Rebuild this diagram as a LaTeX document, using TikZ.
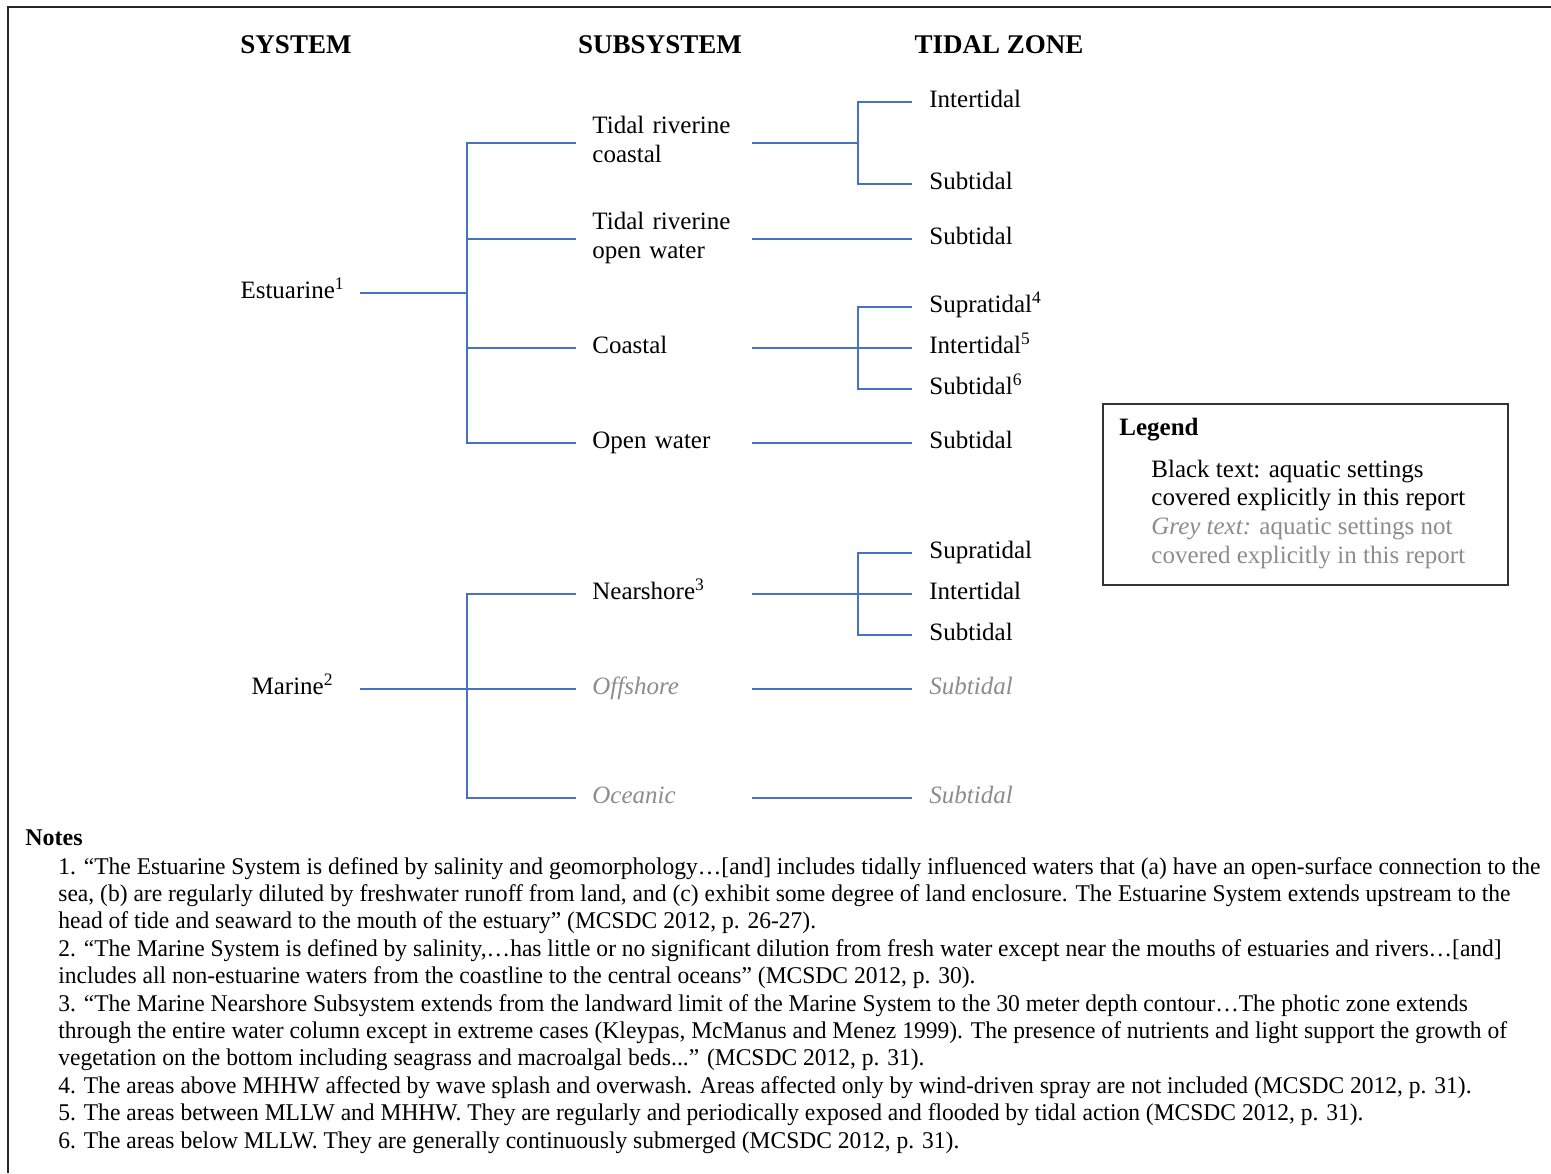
\documentclass[tikz,border=0pt]{standalone}
\usepackage{fontspec}
\setmainfont{Liberation Serif}
\newfontfamily\notefont[FakeStretch=0.98]{Liberation Serif}
\usetikzlibrary{positioning, calc}
\definecolor{linkblue}{RGB}{68, 114, 196}
\definecolor{notgray}{RGB}{140, 140, 140}
\tikzset{
  colhead/.style={font=\fontsize{13.5}{16}\selectfont\bfseries, inner sep=0pt},
  label/.style={font=\fontsize{12.5}{14.5}\selectfont,
                text height=10pt, text depth=5pt},
  sysname/.style={label, align=center, text width=58pt, inner xsep=4.5pt,
                  anchor=east},
  subname/.style={label, align=left, text width=71.5pt, inner xsep=8pt,
                  anchor=west},
  zone/.style={label, inner xsep=8.5pt, anchor=west},
  uncovered/.style={text=notgray, font=\fontsize{12.5}{14.5}\selectfont\itshape},
  tie/.style={draw=linkblue, line width=0.6pt},
  frame/.style={draw=black!85, line width=1.2pt},
}

\begin{document}
\begin{tikzpicture}[x=0.5pt, y=-0.5pt]
  \useasboundingbox (0,0) rectangle (1551,1173);
  \draw[frame] (8,1173) -- (8,7) -- (1551,7);

  % column heads
  \node[colhead] (hsys) at (296,45) {SYSTEM};
  \node[colhead] (hsub) at (660,45) {SUBSYSTEM};
  \node[colhead] (hzone) at (999,45) {TIDAL ZONE};

  % ---- estuarine ----
  \node[sysname] (est) at (360,293) {Estuarine\textsuperscript{1}};
  \coordinate (estj) at (467,293);
  \node[subname, text depth=19.5pt] (trc) at (576,143) {Tidal riverine\\coastal};
  \node[subname, text depth=19.5pt] (tro) at (576,239) {Tidal riverine\\open water};
  \node[subname] (coa) at (576,348) {Coastal};
  \node[subname] (opw) at (576,443) {Open water};
  \foreach \s in {trc, tro, coa, opw}
    \draw[tie] (est.east) -- (estj) |- (\s.west);

  \node[zone] (trci) at (912,102) {Intertidal};
  \node[zone] (trcs) at (912,184) {Subtidal};
  \coordinate (trcj) at (858,143);
  \foreach \z in {trci, trcs}
    \draw[tie] (trc.east) -- (trcj) |- (\z.west);

  \node[zone] (tros) at (912,239) {Subtidal};
  \draw[tie] (tro.east) -- (tros.west);

  \node[zone] (coap) at (912,307) {Supratidal\textsuperscript{4}};
  \node[zone] (coai) at (912,348) {Intertidal\textsuperscript{5}};
  \node[zone] (coas) at (912,389) {Subtidal\textsuperscript{6}};
  \coordinate (coaj) at (858,348);
  \foreach \z in {coap, coai, coas}
    \draw[tie] (coa.east) -- (coaj) |- (\z.west);

  \node[zone] (opws) at (912,443) {Subtidal};
  \draw[tie] (opw.east) -- (opws.west);

  % ---- marine ----
  \node[sysname] (mar) at (360,689) {Marine\textsuperscript{2}};
  \coordinate (marj) at (467,689);
  \node[subname] (nea) at (576,594) {Nearshore\textsuperscript{3}};
  \node[subname, uncovered] (off) at (576,689) {Offshore};
  \node[subname, uncovered] (oce) at (576,798) {Oceanic};
  \foreach \s in {nea, off, oce}
    \draw[tie] (mar.east) -- (marj) |- (\s.west);

  \node[zone] (neap) at (912,553) {Supratidal};
  \node[zone] (neai) at (912,594) {Intertidal};
  \node[zone] (neas) at (912,635) {Subtidal};
  \coordinate (neaj) at (858,594);
  \foreach \z in {neap, neai, neas}
    \draw[tie] (nea.east) -- (neaj) |- (\z.west);

  \node[zone, uncovered] (offs) at (912,689) {Subtidal};
  \draw[tie] (off.east) -- (offs.west);
  \node[zone, uncovered] (oces) at (912,798) {Subtidal};
  \draw[tie] (oce.east) -- (oces.west);

  % legend
  \node[draw=black!80, line width=0.8pt, minimum width=202.5pt,
        minimum height=90.5pt, anchor=north west] (legend) at (1102,403) {};
  \node[font=\fontsize{12.5}{14.5}\selectfont\bfseries, inner sep=0pt,
        anchor=base west] (legtitle) at (1119,435) {Legend};
  \node[font=\fontsize{12.5}{14.3}\selectfont, align=left, inner sep=0pt,
        anchor=base west] (legbody) at (1151,563)
    {Black text: aquatic settings\\
     covered explicitly in this report\\
     \textcolor{notgray}{\textit{Grey text:} aquatic settings not}\\
     \textcolor{notgray}{covered explicitly in this report}};

  % notes
  \node[font=\fontsize{12}{13.7}\selectfont\bfseries, inner sep=0pt,
        anchor=base west] (notehead) at (25,845) {Notes};
  \node[font=\notefont\fontsize{12}{13.7}\selectfont, align=left, inner sep=0pt,
        anchor=base west] (notes) at (58,1148)
    {1. “The Estuarine System is defined by salinity and geomorphology…[and] includes tidally influenced waters that (a) have an open-surface connection to the\\
     sea, (b) are regularly diluted by freshwater runoff from land, and (c) exhibit some degree of land enclosure. The Estuarine System extends upstream to the\\
     head of tide and seaward to the mouth of the estuary” (MCSDC 2012, p. 26-27).\\
     2. “The Marine System is defined by salinity,…has little or no significant dilution from fresh water except near the mouths of estuaries and rivers…[and]\\
     includes all non-estuarine waters from the coastline to the central oceans” (MCSDC 2012, p. 30).\\
     3. “The Marine Nearshore Subsystem extends from the landward limit of the Marine System to the 30 meter depth contour…The photic zone extends\\
     through the entire water column except in extreme cases (Kleypas, McManus and Menez 1999). The presence of nutrients and light support the growth of\\
     vegetation on the bottom including seagrass and macroalgal beds...” (MCSDC 2012, p. 31).\\
     4. The areas above MHHW affected by wave splash and overwash. Areas affected only by wind-driven spray are not included (MCSDC 2012, p. 31).\\
     5. The areas between MLLW and MHHW. They are regularly and periodically exposed and flooded by tidal action (MCSDC 2012, p. 31).\\
     6. The areas below MLLW. They are generally continuously submerged (MCSDC 2012, p. 31).};
\end{tikzpicture}
\end{document}
